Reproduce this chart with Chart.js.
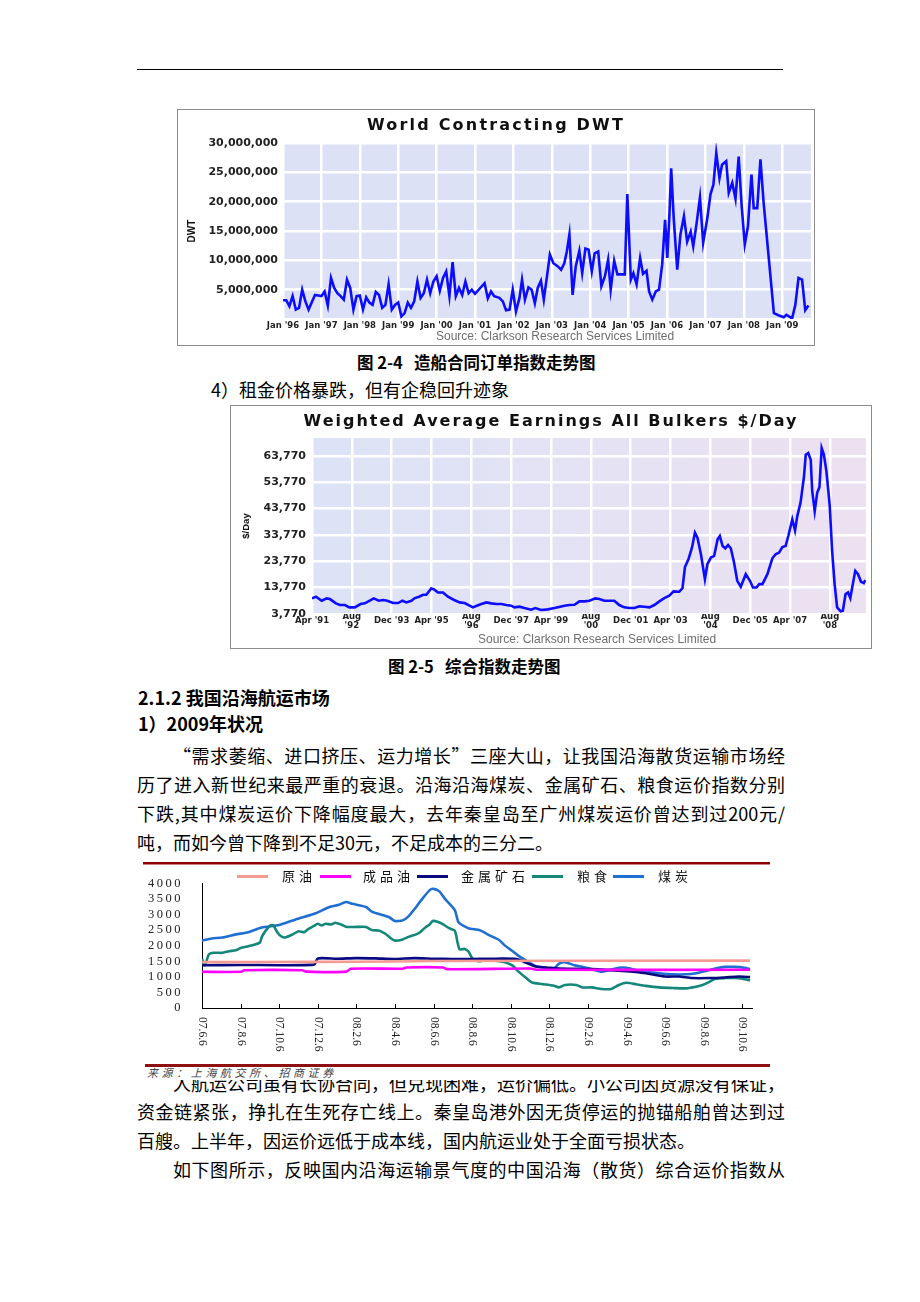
<!DOCTYPE html>
<html lang="zh-CN">
<head>
<meta charset="utf-8">
<title>航运市场</title>
<script src="https://cdn.jsdelivr.net/npm/chart.js@4.4.1/dist/chart.umd.min.js"></script>
<style>
  html, body { margin: 0; padding: 0; background: #fff; }
  #page { position: relative; width: 920px; height: 1302px; overflow: hidden;
          font-family: "Noto Sans CJK SC", sans-serif; color: #000; }
  .txt { position: absolute; white-space: nowrap; font-size: 18px; line-height: 20px; }
  .full { white-space: normal; text-align: justify; text-align-last: justify; }
  .bold { font-weight: 700; }
  .cap { font-size: 16.5px; font-weight: 700; }
  canvas { position: absolute; }
  .frame { position: absolute; border: 1px solid #8c8c8c; box-sizing: border-box; pointer-events: none; }
  .ctitle { position: absolute; font-family: "DejaVu Sans"; font-weight: bold; font-size: 16px;
            white-space: nowrap; transform: translate(-50%, -50%); color: #111; }
  .src { position: absolute; font-family: "Liberation Sans"; font-size: 12px; color: #6e6e6e;
         white-space: nowrap; line-height: 14px; }
  .rule { position: absolute; }
  .lg-line { position: absolute; height: 3px; }
  .lg-text { position: absolute; font-size: 13px; line-height: 16px; letter-spacing: 4px; white-space: nowrap; color: #111; }
  #fig3 { position: absolute; left: 130px; top: 858px; width: 670px; height: 222px; background: #fff; }
</style>
</head>
<body>
<div id="page">

  <!-- 页眉线 -->
  <div class="rule" style="left:137px;top:69px;width:646px;height:1px;background:#000"></div>

  <!-- 图2-4 -->
  <canvas id="dwtChart" width="638" height="236" style="left:177px;top:109px"></canvas>
  <div class="frame" style="left:177px;top:109px;width:638px;height:237px"></div>
  <div class="ctitle" style="left:496px;top:124px;letter-spacing:2.2px">World Contracting DWT</div>
  <div class="src" style="left:436px;top:329px">Source: Clarkson Research Services Limited</div>

  <div class="txt cap" style="left:357px;top:352px">图 2-4&nbsp;&nbsp;&nbsp;造船合同订单指数走势图</div>
  <div class="txt" style="left:211px;top:379px">4）租金价格暴跌，但有企稳回升迹象</div>

  <!-- 图2-5 -->
  <canvas id="earnChart" width="642" height="243" style="left:230px;top:405px"></canvas>
  <div class="frame" style="left:230px;top:405px;width:642px;height:244px"></div>
  <div class="ctitle" style="left:551px;top:420px;letter-spacing:2px">Weighted Average Earnings All Bulkers $/Day</div>
  <div class="src" style="left:478px;top:632px">Source: Clarkson Research Services Limited</div>

  <div class="txt cap" style="left:388px;top:656px">图 2-5&nbsp;&nbsp;&nbsp;综合指数走势图</div>

  <div class="txt bold" style="left:138px;top:687px">2.1.2 我国沿海航运市场</div>
  <div class="txt bold" style="left:138px;top:713px">1）2009年状况</div>
  <div class="txt full" style="left:173px;top:745px;width:612px">“需求萎缩、进口挤压、运力增长”三座大山，让我国沿海散货运输市场经</div>
  <div class="txt full" style="left:137px;top:774px;width:648px">历了进入新世纪来最严重的衰退。沿海沿海煤炭、金属矿石、粮食运价指数分别</div>
  <div class="txt full" style="left:137px;top:803px;width:648px">下跌,其中煤炭运价下降幅度最大，去年秦皇岛至广州煤炭运价曾达到过200元/</div>
  <div class="txt" style="left:137px;top:832px">吨，而如今曾下降到不足30元，不足成本的三分二。</div>

  <div class="txt full" style="left:173px;top:1073px;width:612px">人航运公司虽有长协合同，但兑现困难，运价偏低。小公司因货源没有保证，</div>
  <div class="txt full" style="left:137px;top:1101px;width:648px">资金链紧张，挣扎在生死存亡线上。秦皇岛港外因无货停运的抛锚船舶曾达到过</div>
  <div class="txt" style="left:137px;top:1130px">百艘。上半年，因运价远低于成本线，国内航运业处于全面亏损状态。</div>
  <div class="txt full" style="left:173px;top:1159px;width:612px">如下图所示，反映国内沿海运输景气度的中国沿海（散货）综合运价指数从</div>

  <!-- 沿海运价指数图（白底盖住下一行文字的上沿） -->
  <div id="fig3"></div>
  <div class="rule" style="left:143px;top:862px;width:627px;height:2px;background:#8e0000"></div>
  <div class="rule" style="left:143px;top:864px;width:627px;height:1px;background:#c98080"></div>
  <canvas id="freightChart" width="640" height="198" style="left:140px;top:866px"></canvas>
  <div id="legend3"></div>
  <div class="rule" style="left:145px;top:1064px;width:625px;height:3px;background:#8e1010"></div>
  <div class="txt" style="left:147px;top:1064px;font-size:11px;line-height:16px;font-style:italic;letter-spacing:3.6px;color:#444">来源：上海航交所、招商证券</div>

</div>

<script>
// ===== 数据 =====

// 图2-4 World Contracting DWT（月序号 0 = Jan '96，单位：百万 DWT）
const dwtMonths = [0, 1, 2, 3, 4, 5, 6, 7, 8, 10, 11, 12, 13, 14, 15, 16, 17, 18, 19, 20,
  21, 22, 23, 24, 25, 26, 27, 28, 29, 30, 31, 32, 33, 34, 35, 36, 37, 38, 39, 40,
  41, 42, 43, 44, 45, 46, 47, 48, 49, 50, 51, 52, 53, 54, 55, 56, 57, 58, 59, 60,
  63, 64, 65, 66, 67.6, 68.7, 69.7, 70.8, 71.8, 72.8, 73.9, 74.7, 75.6, 76.7, 77.7, 78.7,
  79.6, 80.6, 81.5, 82.5, 83.4, 84.5, 85.8, 86.9, 87.9, 88.7, 89.5, 90.5, 91.5, 92.6,
  93.5, 94.5, 95.5, 96.5, 97.4, 98.5, 99.5, 100.6, 101.6, 102.4, 103.5, 104.5, 106, 106.8,
  107.6, 108.7, 109.5, 110.5, 111.6, 112.5, 113.6, 114.4, 115.4, 116.5, 117.5, 118.5,
  119.4, 120.1, 120.8, 121.3, 122.1, 123.2, 124.2, 125.3, 126.3, 127.4, 128.2, 129.2,
  130.3, 131.3, 132.6, 133.6, 134.5, 135.4, 136.4, 137.2, 138.5, 139.3, 140.4, 141.4,
  142.4, 143.3, 144.3, 145.3, 146.4, 147.1, 148.2, 149.2, 150.2, 153.4, 155, 156.5,
  157.3, 158.1, 159.1, 160.1, 161.1, 162.2, 163.2, 164.2];
const dwtValues = [3.2, 3.2, 2.2, 3.9, 1.6, 1.9, 5.0, 3.0, 1.6, 4.1, 4.0, 3.9, 4.7, 2.3, 7.0, 5.3, 4.4, 3.9, 3.3, 6.7,
  5.3, 1.6, 3.9, 4.0, 1.6, 3.7, 2.8, 2.4, 4.6, 4.1, 1.9, 2.4, 5.9, 1.6, 2.4, 2.8, 0.45, 1.0, 2.8, 1.9,
  3.0, 6.4, 3.6, 4.4, 6.7, 4.4, 6.4, 7.3, 4.8, 7.0, 8.1, 3.9, 9.7, 3.9, 5.3, 4.1, 6.4, 4.4, 5.0, 4.3,
  6.1, 3.5, 4.7, 3.9, 3.6, 3.0, 1.5, 1.6, 5.0, 1.3, 3.6, 6.7, 3.3, 5.4, 5.0, 2.7,
  5.3, 6.5, 3.3, 7.3, 11.0, 9.5, 9.0, 8.4, 9.5, 11.5, 14.4, 4.1, 9.0, 11.6,
  7.8, 12.0, 11.8, 8.1, 11.2, 11.5, 5.6, 7.3, 10.1, 5.0, 9.9, 7.6, 7.6, 7.6,
  21.3, 6.7, 7.8, 5.9, 10.4, 7.7, 8.2, 4.7, 3.3, 4.7, 5.0, 9.3,
  16.9, 10.4, 18.3, 25.7, 17.2, 8.4, 14.4, 17.5, 13.2, 14.9, 12.4, 16.1,
  20.7, 13.0, 17.2, 21.3, 22.9, 28.3, 24.0, 26.3, 26.9, 21.5, 23.2, 20.5,
  27.7, 19.5, 12.7, 15.8, 24.6, 18.9, 18.9, 27.2, 19.8, 1.0, 0.6, 0.3,
  0.7, 0.45, 0.1, 2.4, 7.0, 6.7, 1.5, 2.3];
const dwtTickMonths = [0, 12, 24, 36, 48, 60, 72, 84, 96, 108, 120, 132, 144, 156];
const dwtTickLabels = ["Jan '96", "Jan '97", "Jan '98", "Jan '99", "Jan '00", "Jan '01", "Jan '02",
  "Jan '03", "Jan '04", "Jan '05", "Jan '06", "Jan '07", "Jan '08", "Jan '09"];
const dwtYTicks = [0, 5, 10, 15, 20, 25, 30];

// 图2-5 Weighted Average Earnings（月序号 0 = Apr '91，单位：$/Day）
const earnMonths = [0, 1.6, 3.9, 5.9, 7.2, 9.6, 11.2, 13.2, 15, 17.2, 19.5, 21.2, 23.2, 24.8, 26.8,
  28.6, 30.2, 32.6, 34.6, 36.3, 37.9, 39.9, 41.3, 43, 44.6, 45.9, 47.9, 48.9, 50.6, 52.6,
  54.6, 56.9, 59.3, 61.3, 63.3, 64.6, 66.2, 68, 70, 72, 74, 76, 78, 80, 81.3, 83.3, 85.3,
  88, 89.7, 92, 94.7, 97.4, 101.4, 103.4, 105.4, 107.4, 109.4, 111.4, 113.8, 115.4, 117.4,
  121.4, 123.4, 125.4, 127.5, 129.5, 131.5, 133.5, 135.5, 137.5, 139.5, 141.5, 143.5,
  145.2, 147.5, 148.8, 149.8, 151.2, 152.6, 153.8, 154.8, 156.2, 157.8, 158.8, 160.2,
  161.5, 162.9, 163.8, 164.9, 166, 167.1, 168.2, 169.5, 170.8, 172.2, 174.2, 175.9,
  177.1, 178.5, 179.6, 180.9, 182.9, 184.9, 186.2, 187.6, 188.9, 190.2, 191.3, 192.9,
  194, 194.9, 196.2, 197.6, 198.3, 199.3, 200.3, 200.9, 201.9, 202.9, 203.8, 204.7,
  205.6, 206.6, 207.9, 208.9, 209.9, 210.9, 212.3, 213.2, 214.3, 215.3, 216.2, 217.2,
  218.2, 219.3, 220.5, 221.6, 222.2];
const earnValues = [9680, 10310, 8800, 9680, 9430, 7800, 7170, 7170, 6290, 6290, 7540, 7800, 8800, 9680, 8800,
  9050, 8800, 7920, 7920, 8800, 8170, 8800, 9810, 10310, 11070, 11070, 13460, 13200, 11950, 11950,
  10310, 9180, 8170, 7920, 6920, 6290, 6920, 7540, 8170, 7800, 7540, 7540, 7170, 6920, 6290, 6540, 6030,
  5410, 6030, 5280, 5530, 6030, 6920, 7170, 7290, 8550, 8550, 8800, 9680, 9430, 8800,
  8800, 7170, 6290, 6030, 6030, 6660, 6540, 6290, 7170, 8550, 9810, 10690,
  12330, 12200, 13580, 21630, 24530, 28930, 34590, 32700, 26410, 16980, 22640, 25160,
  25790, 32070, 33330, 29560, 28680, 29940, 28680, 23270, 16350, 14090, 18870, 16350,
  13830, 13830, 15090, 15090, 18870, 24900, 26410, 27040, 29180, 29560, 33330, 39620,
  35470, 40880, 45910, 55970, 64150, 64780, 62270, 50320, 42770, 49690, 51830, 66670,
  64150, 57860, 45280, 27670, 15090, 6290, 4780, 5030, 11320, 11950, 9810, 15090,
  20120, 18870, 15970, 15470, 16600];
const earnTickMonths = [0, 16, 32, 48, 64, 80, 96, 112, 128, 144, 160, 176, 192, 208];
const earnTickLabels = ["Apr '91", ["Aug", "'92"], "Dec '93", "Apr '95", ["Aug", "'96"], "Dec '97",
  "Apr '99", ["Aug", "'00"], "Dec '01", "Apr '03", ["Aug", "'04"], "Dec '05", "Apr '07", ["Aug", "'08"]];
const earnYTicks = [3770, 13770, 23770, 33770, 43770, 53770, 63770];

// 沿海运价指数（月序号 0 = 07.6.6）
const freightNames  = ["原油", "成品油", "金属矿石", "粮食", "煤炭"];
const freightColors = ["#f59a92", "#ff00ff", "#0a0a80", "#13877a", "#1f6fd2"];

const crudeX = [0, 6, 10, 12, 28.4];
const crudeY = [1470, 1480, 1490, 1505, 1520];

const oilX = [0, 2, 2.2, 5.2, 5.4, 7.5, 7.7, 10.4, 10.6, 12.5, 12.7, 17, 17.4, 28.4];
const oilY = [1160, 1160, 1210, 1210, 1165, 1165, 1260, 1260, 1300, 1300, 1245, 1265, 1225, 1225];

const oreX = [0, 2, 5.8, 6, 7, 8, 9, 10, 11, 12, 13, 14, 15, 16.3, 16.8, 17.3, 18, 18.5, 20.2,
  21.8, 23, 24, 24.7, 25.4, 26.3, 27.1, 27.8, 28.4];
const oreY = [1370, 1380, 1390, 1590, 1580, 1600, 1590, 1570, 1600, 1580, 1570, 1570, 1580, 1570, 1450,
  1330, 1290, 1265, 1245, 1185, 1115, 1010, 1010, 960, 960, 980, 1010, 990];

const grainX = [0, 0.15, 0.36, 0.6, 1.05, 1.4, 1.75, 2.0, 2.35, 2.7, 3.0, 3.1, 3.3, 3.55, 3.7, 3.9,
  4.1, 4.3, 4.7, 5.0, 5.3, 5.5, 5.8, 6.0, 6.2, 6.4, 6.7, 6.9, 7.2, 7.5, 8.0, 8.5, 8.8, 9.2,
  9.5, 9.8, 10.0, 10.4, 10.7, 11.1, 11.3, 11.6, 11.8, 11.95, 12.2, 12.5, 12.8, 13.1, 13.25,
  13.35, 13.6, 13.8, 14.0, 14.3, 14.7, 15.2, 15.7, 16.1, 16.4, 16.8, 17.1, 17.6, 18.2, 18.5,
  18.8, 19.4, 19.7, 20.2, 20.7, 21.2, 21.6, 22.0, 22.5, 23.0, 23.7, 24.4, 25.1, 25.6, 25.9,
  26.3, 26.6, 27.1, 27.6, 28.0, 28.4];
const grainY = [1570, 1370, 1720, 1770, 1770, 1820, 1850, 1925, 1975, 2025, 2100, 2280, 2480, 2650, 2650, 2430,
  2300, 2260, 2360, 2460, 2430, 2530, 2630, 2700, 2650, 2700, 2680, 2735, 2680, 2600, 2600, 2600, 2500, 2480,
  2380, 2230, 2160, 2200, 2280, 2360, 2430, 2600, 2680, 2790, 2765, 2680, 2560, 2480, 2080,
  1880, 1895, 1820, 1600, 1500, 1530, 1520, 1470, 1360, 1165, 960, 820, 770, 720, 660,
  740, 740, 660, 660, 610, 610, 740, 810, 760, 710, 660, 640, 630, 680, 730,
  840, 940, 960, 960, 940, 880];

const coalX = [0, 0.5, 1.05, 1.75, 2.4, 3.1, 4.0, 4.85, 5.9, 6.6, 7.1, 7.45, 7.8, 8.5, 8.8, 9.3, 9.7,
  10.0, 10.4, 10.7, 11.1, 11.4, 11.8, 12.0, 12.3, 12.6, 13.1, 13.3, 13.8, 14.4, 14.9, 15.4, 15.7,
  16.1, 16.4, 16.8, 17.3, 17.8, 18.2, 18.5, 18.8, 19.3, 19.7, 20.2, 20.7, 21.1, 21.6, 22.0, 22.5,
  23.0, 23.7, 24.4, 25.1, 25.6, 26.1, 26.6, 27.1, 27.6, 28.1, 28.4];
const coalY = [2160, 2230, 2260, 2360, 2430, 2580, 2660, 2840, 3040, 3240, 3310, 3400, 3340, 3240, 3090, 2990, 2910,
  2790, 2810, 2940, 3240, 3490, 3780, 3820, 3740, 3490, 3140, 2740, 2560, 2490, 2330, 2180, 2000,
  1820, 1670, 1520, 1340, 1290, 1245, 1420, 1470, 1370, 1320, 1245, 1165, 1215, 1290, 1290, 1215,
  1165, 1115, 1080, 1080, 1115, 1185, 1265, 1320, 1320, 1290, 1245];

const freightTickMonths = [0, 2, 4, 6, 8, 10, 12, 14, 16, 18, 20, 22, 24, 26, 28];
const freightTickLabels = ["07.6.6", "07.8.6", "07.10.6", "07.12.6", "08.2.6", "08.4.6", "08.6.6", "08.8.6",
  "08.10.6", "08.12.6", "09.2.6", "09.4.6", "09.6.6", "09.8.6", "09.10.6"];
const freightYTicks = [0, 500, 1000, 1500, 2000, 2500, 3000, 3500, 4000];

// ===== 共通 =====
Chart.defaults.font.family = "DejaVu Sans";

function toPoints(xs, ys) {
  return xs.map((x, i) => ({ x: x, y: ys[i] }));
}

// プロット領域の背景
function plotBg(fill) {
  return {
    id: "plotBg",
    beforeDraw(chart) {
      const a = chart.chartArea, c = chart.ctx;
      c.save();
      if (Array.isArray(fill)) {
        const g = c.createLinearGradient(a.left, 0, a.right, 0);
        g.addColorStop(0, fill[0]);
        g.addColorStop(1, fill[1]);
        c.fillStyle = g;
      } else {
        c.fillStyle = fill;
      }
      c.fillRect(a.left, a.top, a.right - a.left, a.bottom - a.top);
      c.restore();
    }
  };
}

const whiteGrid = { color: "#ffffff", lineWidth: 2.5, drawTicks: false };

// ===== 图2-4 =====
new Chart(document.getElementById("dwtChart"), {
  type: "line",
  data: {
    datasets: [{
      data: toPoints(dwtMonths, dwtValues),
      borderColor: "#0c0cff",
      borderWidth: 2.6,
      pointRadius: 0,
      tension: 0
    }]
  },
  options: {
    responsive: false,
    animation: false,
    layout: { padding: { top: 34, right: 4, left: 0, bottom: 0 } },
    plugins: { legend: { display: false }, tooltip: { enabled: false } },
    scales: {
      x: {
        type: "linear", min: 0, max: 165,
        afterBuildTicks: s => { s.ticks = dwtTickMonths.map(v => ({ value: v })); },
        afterFit: s => { s.height = 26; },
        ticks: {
          callback: (v, i) => dwtTickLabels[i],
          autoSkip: false, maxRotation: 0, minRotation: 0, padding: 2,
          font: { size: 8.5, weight: "bold" }, color: "#222"
        },
        grid: whiteGrid,
        border: { display: false }
      },
      y: {
        min: 0, max: 30,
        afterBuildTicks: s => { s.ticks = dwtYTicks.map(v => ({ value: v })); },
        afterFit: s => { s.width = 106; },
        ticks: {
          callback: v => v === 0 ? "" : (v * 1000000).toLocaleString("en-US"),
          autoSkip: false,
          padding: 5, font: { size: 11, weight: "bold" }, color: "#222"
        },
        grid: whiteGrid,
        border: { display: false },
        title: { display: true, text: "DWT", font: { family: "Liberation Sans", size: 10, weight: "bold" },
                 color: "#111", padding: { top: 9, bottom: 0 } }
      }
    }
  },
  plugins: [plotBg("#dde1f6")]
});

// ===== 图2-5 =====
new Chart(document.getElementById("earnChart"), {
  type: "line",
  data: {
    datasets: [{
      data: toPoints(earnMonths, earnValues),
      borderColor: "#0c0cff",
      borderWidth: 2.6,
      pointRadius: 0,
      tension: 0
    }]
  },
  options: {
    responsive: false,
    animation: false,
    layout: { padding: { top: 33, right: 6, left: 0, bottom: 0 } },
    plugins: { legend: { display: false }, tooltip: { enabled: false } },
    scales: {
      x: {
        type: "linear", min: 0, max: 222.5,
        afterBuildTicks: s => { s.ticks = earnTickMonths.map(v => ({ value: v })); },
        afterFit: s => { s.height = 34; },
        ticks: {
          callback: (v, i) => earnTickLabels[i],
          autoSkip: false, maxRotation: 0, minRotation: 0, padding: 3, crossAlign: "center",
          font: { size: 8.5, weight: "bold", lineHeight: 1 }, color: "#222"
        },
        grid: whiteGrid,
        border: { display: false }
      },
      y: {
        min: 3770, max: 70500,
        afterBuildTicks: s => { s.ticks = earnYTicks.map(v => ({ value: v })); },
        afterFit: s => { s.width = 82; },
        ticks: {
          callback: v => v.toLocaleString("en-US"),
          autoSkip: false,
          padding: 6, font: { size: 11, weight: "bold" }, color: "#222"
        },
        grid: whiteGrid,
        border: { display: false },
        title: { display: true, text: "$/Day", font: { family: "Liberation Sans", size: 9.5, weight: "bold" },
                 color: "#111", padding: { top: 11, bottom: 0 } }
      }
    }
  },
  plugins: [plotBg(["#dce3f6", "#ece1f1"])]
});

// ===== 沿海运价指数 =====
const freightSeries = [
  toPoints(crudeX, crudeY),
  toPoints(oilX, oilY),
  toPoints(oreX, oreY),
  toPoints(grainX, grainY),
  toPoints(coalX, coalY)
];

// x 轴刻度线（向内）与竖排日期标签
const freightAxis = {
  id: "freightAxis",
  beforeDraw(chart) { chart.ctx.letterSpacing = "2.5px"; },
  afterDraw(chart) {
    const { ctx, chartArea: a } = chart;
    const x = chart.scales.x;
    ctx.save();
    ctx.letterSpacing = "0px";
    ctx.strokeStyle = "#000";
    ctx.lineWidth = 1;
    ctx.beginPath();
    freightTickMonths.forEach(m => {
      const px = Math.round(x.getPixelForValue(m)) + 0.5;
      ctx.moveTo(px, a.bottom);
      ctx.lineTo(px, a.bottom - 4);
    });
    ctx.stroke();
    ctx.fillStyle = "#222";
    ctx.font = '11.5px "Liberation Serif"';
    ctx.textAlign = "left";
    ctx.textBaseline = "middle";
    freightTickMonths.forEach((m, i) => {
      ctx.save();
      ctx.translate(x.getPixelForValue(m), a.bottom + 9);
      ctx.rotate(Math.PI / 2);
      ctx.fillText(freightTickLabels[i], 0, 0);
      ctx.restore();
    });
    ctx.restore();
  }
};

new Chart(document.getElementById("freightChart"), {
  type: "line",
  data: {
    datasets: freightSeries.map((pts, i) => ({
      label: freightNames[i],
      data: pts,
      borderColor: freightColors[i],
      borderWidth: 2.6,
      pointRadius: 0,
      tension: 0.2
    }))
  },
  options: {
    responsive: false,
    animation: false,
    layout: { padding: { top: 11, right: 28, left: 0, bottom: 0 } },
    plugins: { legend: { display: false }, tooltip: { enabled: false } },
    scales: {
      x: {
        type: "linear", min: 0, max: 28.5,
        afterBuildTicks: s => { s.ticks = freightTickMonths.map(v => ({ value: v })); },
        afterFit: s => { s.height = 56; },
        ticks: { display: false },
        grid: { display: false },
        border: { display: true, color: "#000", width: 1 }
      },
      y: {
        min: 0, max: 4000,
        afterBuildTicks: s => { s.ticks = freightYTicks.map(v => ({ value: v })); },
        afterFit: s => { s.width = 62; },
        ticks: {
          callback: v => String(v),
          autoSkip: false,
          padding: 11,
          font: { family: "Liberation Serif", size: 12.5, weight: "normal", lineHeight: 1 },
          color: "#222"
        },
        grid: { display: false },
        border: { display: true, color: "#000", width: 1 }
      }
    }
  },
  plugins: [freightAxis]
});

// 图例（按系列名与颜色生成）
const legendPos = [[237, 282], [320, 363], [417, 461], [532, 577], [613, 658]];
const legendBox = document.getElementById("legend3");
freightNames.forEach((name, i) => {
  const line = document.createElement("div");
  line.className = "lg-line";
  line.style.left = legendPos[i][0] + "px";
  line.style.top = "875px";
  line.style.width = "31px";
  line.style.background = freightColors[i];
  legendBox.appendChild(line);
  const t = document.createElement("div");
  t.className = "lg-text";
  t.style.left = legendPos[i][1] + "px";
  t.style.top = "868px";
  t.textContent = name;
  legendBox.appendChild(t);
});
</script>
</body>
</html>
